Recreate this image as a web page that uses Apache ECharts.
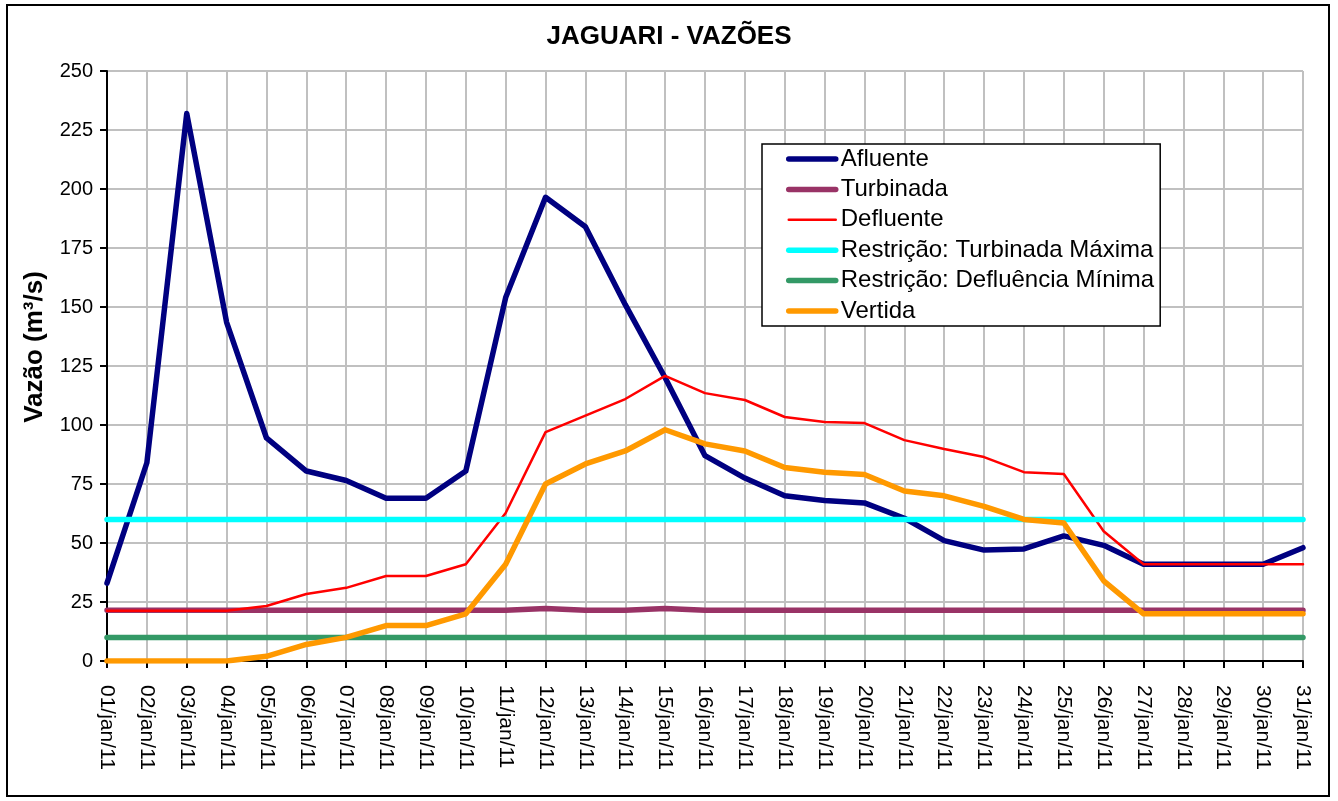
<!DOCTYPE html>
<html>
<head>
<meta charset="utf-8">
<script src="https://cdn.jsdelivr.net/npm/echarts@6/dist/echarts.min.js"></script>
<style>
  html, body { margin: 0; padding: 0; background: #fff; }
  #chart { width: 1338px; height: 801px; }
</style>
</head>
<body>
<div id="chart"></div>
<script>
// dias do mês
var dias = [];
for (var d = 1; d <= 31; d++) {
  dias.push((d < 10 ? '0' + d : '' + d) + '/jan/11');
}

// vazões (m³/s)
var afluente = [33, 84, 232, 143.5, 94.5, 80.5, 76.5, 69, 69, 80.5,
  154, 196.5, 184, 151, 120, 87, 77.5, 70, 68, 67,
  60.5, 51, 47, 47.5, 53, 49, 41, 41, 41, 41, 48];
var turbinada = [21.5, 21.5, 21.5, 21.5, 21.5, 21.5, 21.5, 21.5, 21.5, 21.5,
  21.5, 22.2, 21.5, 21.5, 22.2, 21.5, 21.5, 21.5, 21.5, 21.5,
  21.5, 21.5, 21.5, 21.5, 21.5, 21.5, 21.5, 21.5, 21.5, 21.5, 21.5];
var defluente = [21.3, 21.3, 21.3, 21.3, 23.3, 28.4, 31, 36, 36, 41,
  62.7, 97, 104, 111, 120.8, 113.5, 110.6, 103.4, 101.3, 100.8,
  93.6, 89.8, 86.4, 80, 79.2, 55, 41, 41, 41, 41, 41];
var turbMaxima = [60, 60, 60, 60, 60, 60, 60, 60, 60, 60,
  60, 60, 60, 60, 60, 60, 60, 60, 60, 60,
  60, 60, 60, 60, 60, 60, 60, 60, 60, 60, 60];
var deflMinima = [10, 10, 10, 10, 10, 10, 10, 10, 10, 10,
  10, 10, 10, 10, 10, 10, 10, 10, 10, 10,
  10, 10, 10, 10, 10, 10, 10, 10, 10, 10, 10];
var vertida = [0, 0, 0, 0, 2, 7, 10, 15, 15, 20,
  41, 75, 83.5, 89, 98, 92, 89, 82, 80, 79,
  72, 70, 65.5, 60, 58.5, 34, 20, 20, 20, 20, 20];

var chart = echarts.init(document.getElementById('chart'));

function linha(nome, dados, cor, larg) {
  return {
    name: nome,
    type: 'line',
    data: dados,
    symbol: 'none',
    animation: false,
    lineStyle: { color: cor, width: larg, cap: 'round', join: 'round' },
    itemStyle: { color: cor }
  };
}

var option = {
  backgroundColor: '#fff',
  textStyle: { fontFamily: 'Liberation Sans, Arial, sans-serif', color: '#000' },
  title: {
    text: 'JAGUARI - VAZÕES',
    left: 'center',
    top: 19,
    textStyle: { fontSize: 26, fontWeight: 'bold', color: '#000', fontFamily: 'Liberation Sans, Arial, sans-serif' }
  },
  graphic: [
    {
      type: 'rect',
      shape: { x: 7, y: 5, width: 1322, height: 791 },
      style: { fill: 'none', stroke: '#000', lineWidth: 2 },
      silent: true
    },
    {
      type: 'text',
      x: 35,
      y: 347,
      rotation: Math.PI / 2,
      style: {
        text: 'Vazão (m³/s)',
        fontSize: 26,
        fontWeight: 'bold',
        fontFamily: 'Liberation Sans, Arial, sans-serif',
        fill: '#000',
        align: 'center',
        verticalAlign: 'middle'
      }
    }
  ],
  legend: {
    orient: 'vertical',
    left: 762,
    top: 144,
    backgroundColor: '#fff',
    borderColor: '#000',
    borderWidth: 1.5,
    padding: [3, 6, 3, 24],
    itemWidth: 47,
    itemHeight: 24,
    itemGap: 6.4,
    itemStyle: { opacity: 0 },
    lineStyle: { width: 'inherit', cap: 'round' },
    textStyle: { fontSize: 24, lineHeight: 24, color: '#000', fontFamily: 'Liberation Sans, Arial, sans-serif' },
    data: ['Afluente', 'Turbinada', 'Defluente', 'Restrição: Turbinada Máxima', 'Restrição: Defluência Mínima', 'Vertida']
  },
  grid: { left: 107, right: 35, top: 71, bottom: 140 },
  xAxis: {
    type: 'category',
    data: dias,
    boundaryGap: false,
    axisLine: { lineStyle: { color: '#000', width: 2 } },
    axisTick: { show: true, length: 7, alignWithLabel: true, lineStyle: { color: '#000', width: 2 } },
    axisLabel: { rotate: -90, margin: 24, fontSize: 21, color: '#000', interval: 0 },
    splitLine: { show: true, lineStyle: { color: '#c0c0c0', width: 2 } }
  },
  yAxis: {
    type: 'value',
    min: 0,
    max: 250,
    interval: 25,
    axisLine: { show: true, lineStyle: { color: '#000', width: 2 } },
    axisTick: { show: true, length: 7, lineStyle: { color: '#000', width: 2 } },
    axisLabel: { fontSize: 20, color: '#000', margin: 14 },
    splitLine: { show: true, lineStyle: { color: '#c0c0c0', width: 2 } }
  },
  series: [
    linha('Afluente', afluente, '#000080', 5.5),
    linha('Turbinada', turbinada, '#993366', 5.5),
    linha('Defluente', defluente, '#ff0000', 2.5),
    linha('Restrição: Turbinada Máxima', turbMaxima, '#00ffff', 5.5),
    linha('Restrição: Defluência Mínima', deflMinima, '#339966', 5.5),
    linha('Vertida', vertida, '#ff9900', 5.5)
  ]
};

chart.setOption(option);
</script>
</body>
</html>
